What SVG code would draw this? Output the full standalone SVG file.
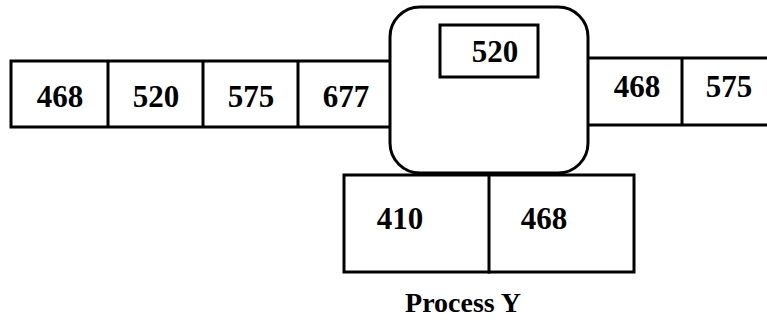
<svg xmlns="http://www.w3.org/2000/svg" width="767" height="324" viewBox="0 0 767 324">
<style>
.ln{fill:none;stroke:#000;stroke-width:3;stroke-linecap:square}
.bx{fill:#fff;stroke:#000;stroke-width:3}
.t{font-family:"Liberation Serif","Times New Roman",serif;font-weight:bold;font-size:31px;fill:#000;text-anchor:middle}
.lbl{font-family:"Liberation Serif","Times New Roman",serif;font-weight:bold;font-size:28px;fill:#000;text-anchor:middle}
</style>
<rect width="767" height="324" fill="#fff"/>
<g id="left-queue">
<path class="ln" d="M391,61 H11 V127 H391 M108,61 V127 M203,61 V127 M298,61 V127"/>
<text class="t" x="60" y="107">468</text>
<text class="t" x="156" y="107">520</text>
<text class="t" x="251" y="107">575</text>
<text class="t" x="346" y="107">677</text>
</g>
<g id="right-queue">
<path class="ln" d="M588,58 H770 M588,125 H770 M682,58 V125"/>
<text class="t" x="637" y="97">468</text>
<text class="t" x="729" y="97">575</text>
</g>
<g id="bottom-queue">
<rect class="bx" x="344" y="175" width="290" height="97"/>
<path class="ln" d="M489,175 V272"/>
<text class="t" x="400" y="229">410</text>
<text class="t" x="544" y="229">468</text>
</g>
<g id="process">
<rect class="bx" x="390" y="7" width="198" height="166" rx="30" ry="30"/>
<rect class="bx" x="440" y="25" width="98" height="52"/>
<text class="t" x="495" y="62">520</text>
</g>
<g id="connectors"/>
<g id="label">
<text class="lbl" x="463" y="312">Process Y</text>
</g>
</svg>
